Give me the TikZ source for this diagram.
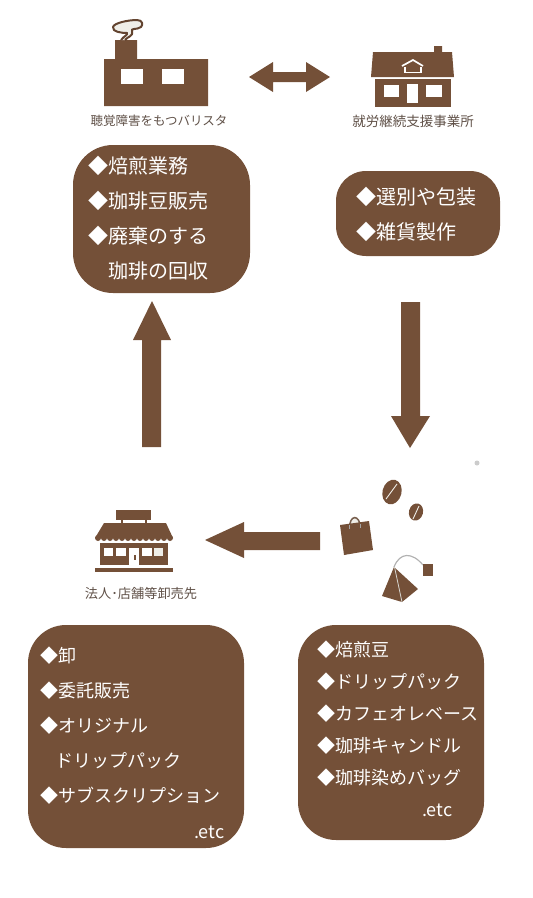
\documentclass[tikz,border=0pt]{standalone}
\usepackage{fontspec}
\setmainfont{Noto Sans CJK JP}
\definecolor{brn}{HTML}{745038}
\definecolor{lbl}{HTML}{5F5047}
\definecolor{smk}{HTML}{EFEEE8}
\tikzset{
  panel/.style={fill=brn,draw=none},
  shapefill/.style={fill=brn,draw=none},
  hole/.style={fill=white,draw=none},
  bigtxt/.style={anchor=west,inner sep=0pt,text=white,font=\fontsize{20}{20}\selectfont},
  midtxt/.style={anchor=west,inner sep=0pt,text=white,font=\fontsize{18}{18}\selectfont},
  captxt/.style={anchor=center,inner sep=0pt,text=lbl},
  pale/.style={draw=#1,line width=0.9pt}
}
\begin{document}
\begin{tikzpicture}[x=1pt,y=-1pt]
\useasboundingbox (0,0) rectangle (533,898);
% panels
\fill[panel,rounded corners=40pt] (73,145) rectangle (250,293);
\fill[panel,rounded corners=30pt] (336,171) rectangle (500,256);
\fill[panel,rounded corners=38pt] (28,625) rectangle (244,848);
\fill[panel,rounded corners=38pt] (298,625) rectangle (484,840);
% panel 1
\node[bigtxt] (a1) at (88,166) {◆焙煎業務};
\node[bigtxt] (a2) at (88,201) {◆珈琲豆販売};
\node[bigtxt] (a3) at (88,236) {◆廃棄のする};
\node[bigtxt] (a4) at (108,271) {珈琲の回収};
% panel 2
\node[bigtxt] (b1) at (356,197) {◆選別や包装};
\node[bigtxt] (b2) at (356,232) {◆雑貨製作};
% panel 3
\node[midtxt] (c1) at (40,655.5) {◆卸};
\node[midtxt] (c2) at (40,691) {◆委託販売};
\node[midtxt] (c3) at (40,726) {◆オリジナル};
\node[midtxt] (c4) at (55,760.5) {ドリップパック};
\node[midtxt] (c5) at (40,795.5) {◆サブスクリプション};
\node[midtxt] (c6) at (194,832) {.etc};
% panel 4
\node[midtxt] (d1) at (317,650) {◆焙煎豆};
\node[midtxt] (d2) at (317,682) {◆ドリップパック};
\node[midtxt] (d3) at (317,714) {◆カフェオレベース};
\node[midtxt] (d4) at (317,746) {◆珈琲キャンドル};
\node[midtxt] (d5) at (317,778) {◆珈琲染めバッグ};
\node[midtxt] (d6) at (422,810) {.etc};
% arrows
\fill[shapefill] (142,447) -- (142,340) -- (133,340) -- (152,301) -- (171,340) -- (161,340) -- (161,447) -- cycle;
\fill[shapefill] (401,302) -- (420,302) -- (420,416) -- (430,416) -- (410,448) -- (391,416) -- (401,416) -- cycle;
\fill[shapefill] (320,532) -- (244,532) -- (244,522) -- (205,540) -- (244,558) -- (244,550) -- (320,550) -- cycle;
\fill[shapefill] (249,77) -- (273,62) -- (273,72) -- (306,72) -- (306,62) -- (330,77) -- (306,92) -- (306,82) -- (273,82) -- (273,92) -- cycle;
% factory
\fill[shapefill] (104,59) -- (115,59) -- (115,40) -- (137,40) -- (137,59) -- (208,59) -- (208,106) -- (104,106) -- cycle;
\fill[hole] (121,69) rectangle (143,84);
\fill[hole] (162,69) rectangle (184,84);
\draw[draw=brn!85!black,fill=smk,line width=2pt,line join=round]
  (121,40) .. controls (124,36) and (128,35) .. (127,33) .. controls (122,33) and (112,32) .. (113,27)
  .. controls (114,23) and (128,20) .. (137,20) .. controls (143,20) and (143,25) .. (141,27)
  .. controls (137,30) and (130,28) .. (132,31) .. controls (134,36) and (127,37) .. (125,40);
% house
\fill[shapefill] (373,52) -- (434,52) -- (434,46) -- (442,46) -- (442,52) -- (452,52) -- (454,77) -- (371,77) -- cycle;
\draw[white,line width=1.7pt] (402,66) -- (413,60) -- (423,66);
\draw[white,line width=1.7pt] (405,67) -- (405,72.5) -- (421,72.5) -- (421,67);
\fill[shapefill] (375,79) rectangle (451,107);
\fill[hole] (384,85) rectangle (399,97);
\fill[hole] (407,84) rectangle (418,103);
\fill[hole] (426,85) rectangle (442,97);
% beans
\fill[shapefill,rotate around={-15:(392,492)}] (392,492) ellipse [x radius=9.5,y radius=12.5];
\draw[pale=smk] (386,499) -- (397,484);
\fill[shapefill,rotate around={-15:(416,512)}] (416,512) ellipse [x radius=7,y radius=8.7];
\draw[pale=smk] (413,519) -- (419,506);
% bag
\fill[smk] (350,524) .. controls (351,514) and (359,514) .. (360,524) -- cycle;
\draw[draw=brn!70!gray,line width=1.5pt] (349.5,529) .. controls (349,514) and (360,514) .. (360.5,528);
\fill[shapefill] (340,525) -- (369,521) -- (373,550) -- (344,555) -- cycle;
\draw[draw=gray!70,line width=1pt] (349.5,525) -- (349.5,529) (360.5,524) -- (360.5,528);
% tea bag
\draw[draw=gray!60,line width=1.2pt] (394,567) .. controls (400,552) and (412,552) .. (423,565);
\fill[shapefill] (394,567) -- (418,589) -- (402,602) -- (382,596) -- cycle;
\draw[draw=smk!80!gray,line width=0.8pt] (394.5,567) -- (402,602);
\fill[shapefill] (423,564) rectangle (433,576);
% speck
\fill[gray!40] (477,463) circle (2.5);
% store
\fill[shapefill] (116,510) rectangle (151,520);
\fill[shapefill] (121,520) rectangle (123,524);
\fill[shapefill] (145,520) rectangle (147,524);
\fill[shapefill] (104,523) -- (166,523) -- (173,538) -- (95,538) -- cycle;
\foreach \i in {0,...,12} {\fill[shapefill] (95+6*\i+3,538) circle (3);}
\fill[shapefill] (100,543) rectangle (168,565);
\fill[hole] (104,548) rectangle (113,556);
\fill[hole] (116,548) rectangle (126,556);
\fill[hole] (129,548) rectangle (139,565);
\fill[hole] (142,548) rectangle (152,556);
\fill[smk] (154,548) rectangle (163,556);
\fill[shapefill] (134,555) rectangle (136,560);
\fill[shapefill] (95,568) rectangle (173,572);
% captions
\node[captxt,font=\fontsize{12.5}{13}\selectfont] (cap1) at (159,121) {聴覚障害をもつバリスタ};
\node[captxt,font=\fontsize{13.5}{14}\selectfont] (cap2) at (413,121) {就労継続支援事業所};
\node[captxt,font=\fontsize{13.2}{14}\selectfont] (cap3) at (141,593) {法人･店舗等卸売先};
\end{tikzpicture}
\end{document}
